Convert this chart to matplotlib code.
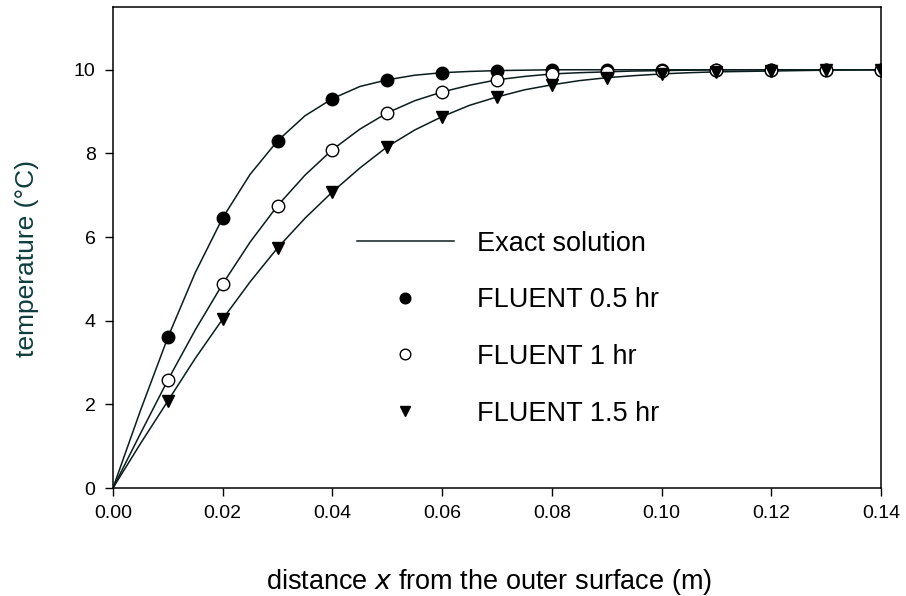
import numpy as np
import matplotlib
matplotlib.use('Agg')
from matplotlib import pyplot as plt

plt.rcParams['font.family'] = ['Liberation Sans', 'DejaVu Sans']

# FLUENT results at the grid nodes
x_nodes = [0.0, 0.01, 0.02, 0.03, 0.04, 0.05, 0.06, 0.07,
           0.08, 0.09, 0.10, 0.11, 0.12, 0.13, 0.14]
t_05hr = [0.0, 3.60, 6.46, 8.30, 9.31, 9.76, 9.93, 9.98,
          10.0, 10.0, 10.0, 10.0, 10.0, 10.0, 10.0]
t_1hr = [0.0, 2.58, 4.88, 6.75, 8.09, 8.97, 9.47, 9.76,
         9.90, 9.95, 9.98, 10.0, 10.0, 10.0, 10.0]
t_15hr = [0.0, 2.08, 4.04, 5.74, 7.08, 8.16, 8.88, 9.35,
          9.64, 9.81, 9.90, 9.95, 9.97, 9.99, 10.0]

# exact solution curves, read at 0.005 m spacing
x_exact = [0.0, 0.005, 0.01, 0.015, 0.02, 0.025, 0.03, 0.035, 0.04, 0.045,
           0.05, 0.055, 0.06, 0.065, 0.07, 0.075, 0.08, 0.085, 0.09, 0.095,
           0.10, 0.105, 0.11, 0.115, 0.12, 0.125, 0.13, 0.135, 0.14]
exact_05hr = [0.0, 1.85, 3.60, 5.15, 6.46, 7.50, 8.30, 8.90, 9.31, 9.60,
              9.76, 9.87, 9.93, 9.96, 9.98, 9.99, 10.0, 10.0, 10.0, 10.0,
              10.0, 10.0, 10.0, 10.0, 10.0, 10.0, 10.0, 10.0, 10.0]
exact_1hr = [0.0, 1.30, 2.58, 3.78, 4.88, 5.88, 6.75, 7.48, 8.09, 8.58,
             8.97, 9.26, 9.47, 9.63, 9.76, 9.84, 9.90, 9.93, 9.95, 9.97,
             9.98, 9.99, 10.0, 10.0, 10.0, 10.0, 10.0, 10.0, 10.0]
exact_15hr = [0.0, 1.06, 2.08, 3.10, 4.04, 4.93, 5.74, 6.45, 7.08, 7.65,
              8.16, 8.56, 8.88, 9.15, 9.35, 9.52, 9.64, 9.74, 9.81, 9.86,
              9.90, 9.93, 9.95, 9.96, 9.97, 9.98, 9.99, 10.0, 10.0]

line_col = '#0a1c1c'

fig = plt.figure(figsize=(9.06, 5.96), dpi=100)
ax = fig.add_axes([0.1247, 0.1812, 0.8477, 0.807])

for ys in (exact_05hr, exact_1hr, exact_15hr):
    ax.plot(x_exact, ys, color=line_col, lw=1.1, zorder=2)
# single legend entry for the three exact curves
ax.plot([], [], color=line_col, lw=1.1, label='Exact solution')

ax.plot(x_nodes[1:], t_05hr[1:], 'o', ms=9, mfc='black', mec='black',
        mew=1, ls='none', label='FLUENT 0.5 hr', zorder=3)
ax.plot(x_nodes[1:], t_1hr[1:], 'o', ms=9, mfc='white', mec='black',
        mew=1, ls='none', label='FLUENT 1 hr', zorder=3)
ax.plot(x_nodes[1:], t_15hr[1:], 'v', ms=9, mfc='black', mec='black',
        mew=1, ls='none', label='FLUENT 1.5 hr', zorder=3)

ax.set_xlim(0, 0.14)
ax.set_ylim(0, 11.5)
ax.set_xticks(np.arange(0, 0.141, 0.02))
ax.set_xticklabels(['%.2f' % v for v in np.arange(0, 0.141, 0.02)])
ax.set_yticks([0, 2, 4, 6, 8, 10])
ax.tick_params(direction='out', length=5.5, width=1, labelsize=14,
               top=False, right=False, pad=7)
for sp in ax.spines.values():
    sp.set_linewidth(1.1)
    sp.set_color('black')

ax.set_xlabel('distance $x$ from the outer surface (m)', fontsize=19.5,
              labelpad=32)
ax.xaxis.label.set_x(0.489)
ax.set_ylabel('temperature (\u00b0C)', fontsize=19, color='#0d3d3d',
              labelpad=25)
ax.yaxis.label.set_y(0.478)

leg = ax.legend(loc='upper left', bbox_to_anchor=(0.2995, 0.563),
                frameon=False, fontsize=19.5, handlelength=3.6,
                handletextpad=0.85, labelspacing=1.13, borderpad=0,
                numpoints=1, markerscale=0.85)

fig.savefig('out.png', dpi=100)
